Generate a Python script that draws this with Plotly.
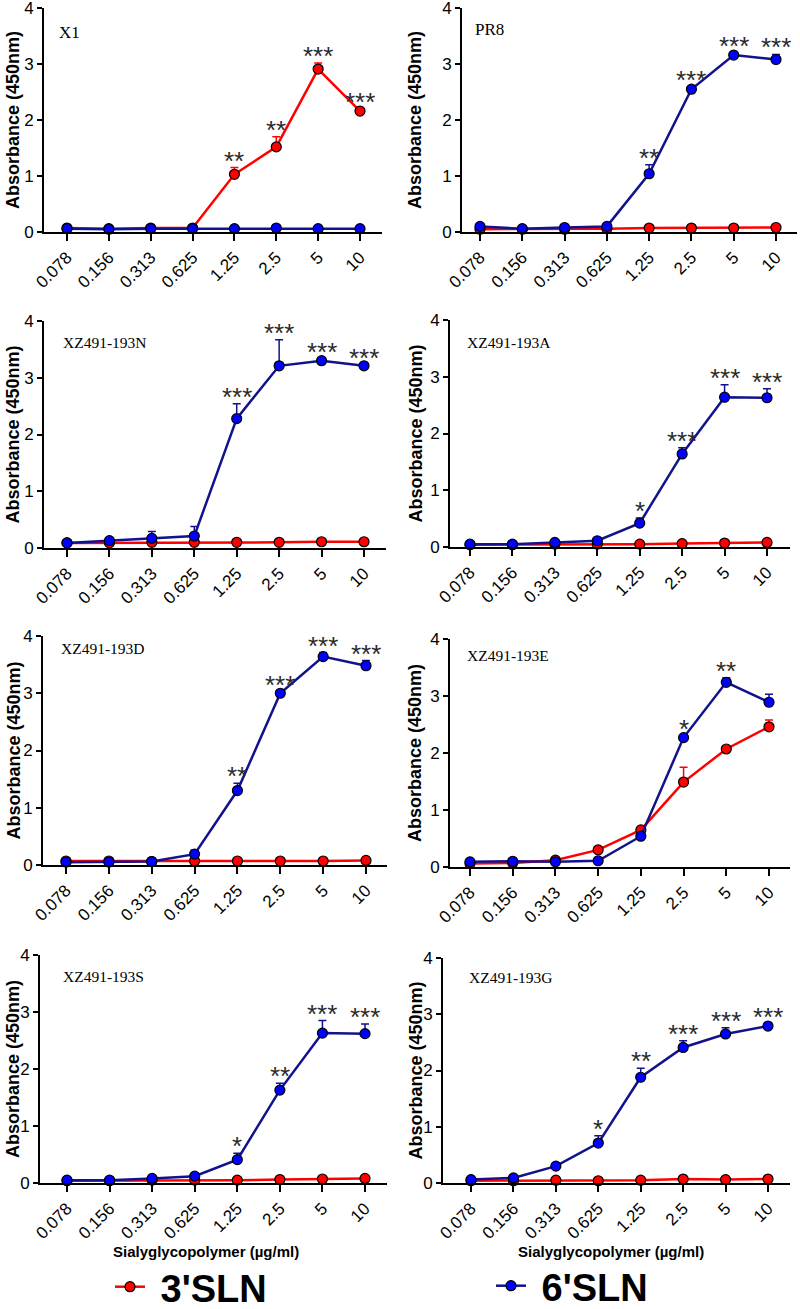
import plotly.graph_objects as go

# ---------------- data ----------------
conc = ["0.078", "0.156", "0.313", "0.625", "1.25", "2.5", "5", "10"]
series_names = ["3'SLN", "6'SLN"]
panel_names = ["X1", "PR8", "XZ491-193N", "XZ491-193A",
               "XZ491-193D", "XZ491-193E", "XZ491-193S", "XZ491-193G"]

x1_3sln = [0.07, 0.06, 0.07, 0.07, 1.03, 1.52, 2.91, 2.16]
x1_3sln_err = [0, 0, 0, 0, 0.12, 0.18, 0.11, 0.03]
x1_6sln = [0.06, 0.05, 0.06, 0.06, 0.06, 0.07, 0.06, 0.06]
x1_6sln_err = [0, 0, 0, 0, 0, 0, 0, 0]
x1_stars = ["", "", "", "", "**", "**", "***", "***"]

pr8_3sln = [0.05, 0.05, 0.05, 0.06, 0.07, 0.07, 0.07, 0.08]
pr8_3sln_err = [0, 0, 0, 0, 0, 0, 0, 0]
pr8_6sln = [0.10, 0.06, 0.08, 0.10, 1.04, 2.55, 3.16, 3.08]
pr8_6sln_err = [0.02, 0, 0, 0.02, 0.16, 0.04, 0.03, 0.09]
pr8_stars = ["", "", "", "", "**", "***", "***", "***"]

n_3sln = [0.09, 0.09, 0.10, 0.10, 0.10, 0.10, 0.11, 0.11]
n_3sln_err = [0, 0, 0, 0, 0, 0, 0, 0]
n_6sln = [0.09, 0.13, 0.17, 0.21, 2.28, 3.21, 3.30, 3.21]
n_6sln_err = [0, 0.02, 0.12, 0.17, 0.26, 0.46, 0.03, 0.02]
n_stars = ["", "", "", "", "***", "***", "***", "***"]

a_3sln = [0.04, 0.04, 0.05, 0.05, 0.05, 0.06, 0.07, 0.08]
a_3sln_err = [0, 0, 0, 0, 0, 0, 0, 0]
a_6sln = [0.05, 0.05, 0.08, 0.11, 0.42, 1.64, 2.64, 2.63]
a_6sln_err = [0, 0, 0.01, 0.02, 0.09, 0.11, 0.22, 0.16]
a_stars = ["", "", "", "", "*", "***", "***", "***"]

d_3sln = [0.07, 0.07, 0.06, 0.07, 0.07, 0.07, 0.07, 0.08]
d_3sln_err = [0, 0, 0, 0, 0, 0, 0, 0]
d_6sln = [0.05, 0.05, 0.06, 0.19, 1.30, 3.00, 3.64, 3.48]
d_6sln_err = [0, 0, 0, 0.07, 0.13, 0.03, 0.07, 0.09]
d_stars = ["", "", "", "", "**", "***", "***", "***"]

e_3sln = [0.06, 0.07, 0.12, 0.30, 0.65, 1.49, 2.07, 2.46]
e_3sln_err = [0, 0, 0, 0.02, 0.03, 0.26, 0.03, 0.12]
e_6sln = [0.09, 0.10, 0.09, 0.11, 0.54, 2.27, 3.24, 2.89]
e_6sln_err = [0, 0, 0, 0, 0.03, 0.03, 0.08, 0.14]
e_stars = ["", "", "", "", "", "*", "**", ""]

s_3sln = [0.04, 0.04, 0.05, 0.05, 0.05, 0.06, 0.07, 0.08]
s_3sln_err = [0, 0, 0, 0, 0, 0, 0, 0]
s_6sln = [0.05, 0.05, 0.08, 0.12, 0.41, 1.63, 2.63, 2.62]
s_6sln_err = [0, 0, 0, 0.02, 0.11, 0.12, 0.22, 0.17]
s_stars = ["", "", "", "", "*", "**", "***", "***"]

g_3sln = [0.04, 0.04, 0.05, 0.04, 0.05, 0.07, 0.06, 0.07]
g_3sln_err = [0, 0, 0, 0, 0, 0, 0, 0]
g_6sln = [0.06, 0.09, 0.30, 0.71, 1.88, 2.41, 2.65, 2.79]
g_6sln_err = [0, 0, 0.02, 0.13, 0.16, 0.12, 0.11, 0.03]
g_stars = ["", "", "", "*", "**", "***", "***", "***"]

y_ticks = [0, 1, 2, 3, 4]
y_title = "Absorbance (450nm)"
x_title = "Sialyglycopolymer (µg/ml)"

# ---------------- layout geometry (pixels) ----------------
W, H = 800, 1309
panels = [
    # name, red, red_err, blue, blue_err, stars, axis x0, x1, ytop, ybottom, cat0, cat7, label x, label y, label size
    (panel_names[0], x1_3sln, x1_3sln_err, x1_6sln, x1_6sln_err, x1_stars, 44, 382, 8, 232, 67, 360, 57, 32, 17),
    (panel_names[1], pr8_3sln, pr8_3sln_err, pr8_6sln, pr8_6sln_err, pr8_stars, 462, 797, 8, 232, 480, 776, 473, 30, 17),
    (panel_names[2], n_3sln, n_3sln_err, n_6sln, n_6sln_err, n_stars, 44, 386, 321, 548, 67, 364, 61, 343, 15.5),
    (panel_names[3], a_3sln, a_3sln_err, a_6sln, a_6sln_err, a_stars, 450, 790, 320, 547, 470, 767, 465, 342, 15.5),
    (panel_names[4], d_3sln, d_3sln_err, d_6sln, d_6sln_err, d_stars, 43, 387, 636, 865, 66, 366, 59, 648, 15.5),
    (panel_names[5], e_3sln, e_3sln_err, e_6sln, e_6sln_err, e_stars, 450, 790, 639, 867, 470, 769, 465, 655, 15.5),
    (panel_names[6], s_3sln, s_3sln_err, s_6sln, s_6sln_err, s_stars, 40, 387, 955, 1183, 67, 365, 61, 976, 15.5),
    (panel_names[7], g_3sln, g_3sln_err, g_6sln, g_6sln_err, g_stars, 443, 790, 958, 1183, 471, 768, 467, 977, 15.5),
]

RED = "#ff0000"
BLUE_LINE = "#12128c"
BLUE_FILL = "#0000ff"
STAR_COLOR = "#2a2a2a"
AX_FONT = "Liberation Sans, Arial, sans-serif"
SERIF = "Liberation Serif, Times New Roman, serif"


def px_x(p):
    return p / W


def px_y(p):
    return 1 - p / H


fig = go.Figure()
annotations = []
layout_axes = {}

for i, (name, red, red_err, blue, blue_err, stars, ax0, ax1, ytop, ybot, c0, c7, lx, ly, lsize) in enumerate(panels):
    n = i + 1
    xa = "x" if n == 1 else f"x{n}"
    ya = "y" if n == 1 else f"y{n}"
    s = (c7 - c0) / 7.0
    xr = [-(c0 - ax0) / s, 7 + (ax1 - c7) / s]

    for vals, errs, lc, fc, sname, leg in [
        (red, red_err, RED, RED, series_names[0], "legend"),
        (blue, blue_err, BLUE_LINE, BLUE_FILL, series_names[1], "legend2"),
    ]:
        fig.add_trace(go.Scatter(
            x=conc, y=vals, xaxis=xa, yaxis=ya,
            mode="lines+markers",
            name="\u00a0" + "<b>" + sname + "</b>",
            legend=leg,
            showlegend=(n == 1),
            cliponaxis=False,
            line=dict(color=lc, width=2.5),
            marker=dict(size=10, color=fc, line=dict(color="black", width=1.2)),
            error_y=dict(type="data", array=errs, arrayminus=[0] * len(errs),
                         symmetric=False, color=lc, thickness=1.5, width=4),
        ))

    for j, st in enumerate(stars):
        if st:
            top = max(red[j] + red_err[j], blue[j] + blue_err[j])
            annotations.append(dict(
                x=j, y=top, xref=xa, yref=ya, text=st, showarrow=False,
                yanchor="bottom", xanchor="center", yshift=-10,
                font=dict(family=AX_FONT, size=26, color=STAR_COLOR),
            ))

    annotations.append(dict(
        x=px_x(lx), y=px_y(ly), xref="paper", yref="paper", text=name,
        showarrow=False, xanchor="left", yanchor="middle",
        font=dict(family=SERIF, size=lsize, color="black"),
    ))
    # y-axis title
    annotations.append(dict(
        x=px_x(13 if ax0 < 400 else 415), y=px_y((ytop + ybot) / 2), xref="paper", yref="paper",
        text="<b>" + y_title + "</b>", showarrow=False, textangle=-90,
        xanchor="center", yanchor="middle",
        font=dict(family=AX_FONT, size=18, color="black"),
    ))

    axis_common = dict(showline=True, linecolor="black", linewidth=2, ticks="outside",
                       tickcolor="black", tickwidth=2, showgrid=False, zeroline=False,
                       automargin=False, ticklabeloverflow="allow",
                       tickfont=dict(family=AX_FONT, size=17, color="black"))
    layout_axes["xaxis" if n == 1 else f"xaxis{n}"] = dict(
        domain=[px_x(ax0), px_x(ax1)], anchor=ya, type="category", range=xr,
        tickangle=-45, ticklen=7, **axis_common)
    layout_axes["yaxis" if n == 1 else f"yaxis{n}"] = dict(
        domain=[px_y(ybot), px_y(ytop)], anchor=xa, range=[0, 4],
        tickvals=y_ticks, ticklen=5, **axis_common)

# bottom x-axis titles
for xc in [206, 611]:
    annotations.append(dict(
        x=px_x(xc), y=px_y(1251), xref="paper", yref="paper",
        text="<b>" + x_title + "</b>", showarrow=False,
        xanchor="center", yanchor="middle",
        font=dict(family=AX_FONT, size=15, color="black"),
    ))

legend_common = dict(orientation="h", xanchor="left", yanchor="middle",
                     bgcolor="rgba(0,0,0,0)", borderwidth=0,
                     font=dict(family=AX_FONT, size=38, color="black"))

fig.update_layout(
    width=W, height=H,
    margin=dict(l=0, r=0, t=0, b=0, autoexpand=False),
    paper_bgcolor="white", plot_bgcolor="white",
    showlegend=True,
    legend=dict(x=px_x(110), y=px_y(1287), **legend_common),
    legend2=dict(x=px_x(491), y=px_y(1286), **legend_common),
    annotations=annotations,
    **layout_axes,
)

fig.write_html("out.html",
               config={"displayModeBar": False},
               post_script="document.body.style.margin='0';document.body.style.overflow='hidden';")
